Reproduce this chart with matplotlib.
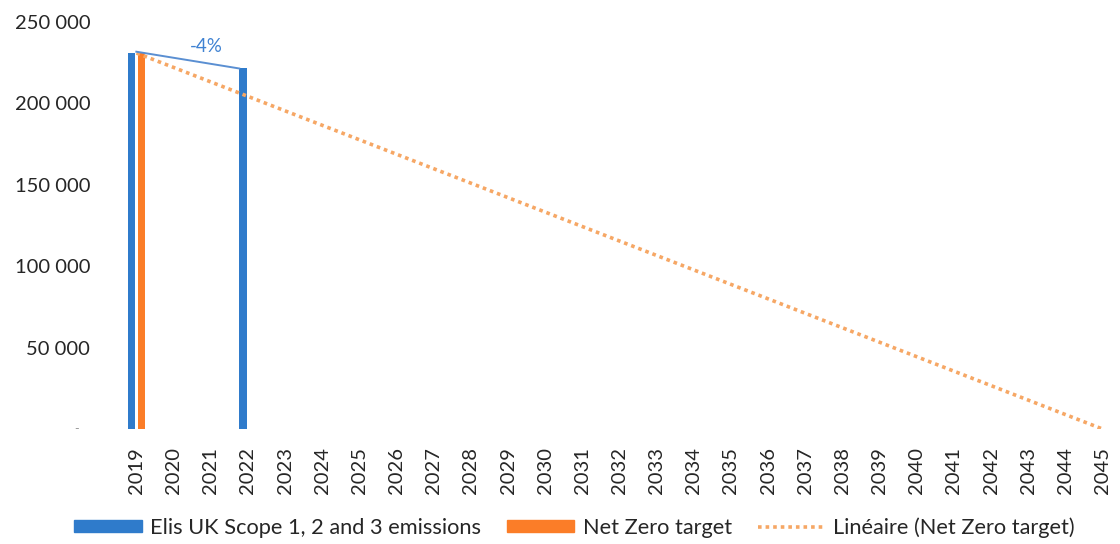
import numpy as np
import matplotlib.pyplot as plt
from matplotlib.patches import Patch
from matplotlib.lines import Line2D

plt.rcParams['font.family'] = ['Lato', 'DejaVu Sans']

# Emissions (tCO2e) and Net Zero path
years = list(range(2019, 2046))
emission_years = [2019, 2022]
emission_values = [231000, 221500]
target_years = [2019, 2045]
target_values = [231000, 0]
change_label = '-4%'

legend_labels = ['Elis UK Scope 1, 2 and 3 emissions', 'Net Zero target',
                 'Linéaire (Net Zero target)']
y_ticks = [0, 50000, 100000, 150000, 200000, 250000]

blue = '#2f7bcb'
orange = '#fb7d28'
trend_orange = '#f6a765'
text_col = '#262626'

fig = plt.figure(figsize=(11.2, 5.44), dpi=100)
ax = fig.add_axes([0.1053, 0.2114, 0.894, 0.748])

x_em = [years.index(y) for y in emission_years]
x_tg = [years.index(y) for y in target_years]
bw = 0.2
off = 0.135

ax.bar(np.array(x_em) - off, emission_values, width=bw, color=blue, zorder=2)
ax.bar(np.array(x_tg) + off, target_values, width=bw, color=orange, zorder=2)

# linear trendline fitted on the target series
coef = np.polyfit(x_tg, target_values, 1)
xt = np.array([0, len(years) - 1])
ax.plot(xt, np.polyval(coef, xt), color=trend_orange, lw=2.6,
        linestyle=(0, (1, 1.1)), zorder=3)

# connector between the two emission bars
x0 = x_em[0] - off + bw / 2 + 0.03
x1 = x_em[1] - off - bw / 2
ax.plot([x0, x1], [emission_values[0] + 800, emission_values[1]],
        color='#5a8fd2', lw=1.4, zorder=4)
ax.text((x0 + x1) / 2 + 0.5, emission_values[0] + 4200, change_label,
        color='#3f82d2', fontsize=13.5, ha='center', va='center')

ax.set_xlim(-0.5, 26.45)
ax.set_ylim(0, 250000)
ax.set_xticks(range(len(years)))
ax.set_xticklabels([str(y) for y in years], rotation=90, fontsize=14.5,
                   color=text_col)
ax.set_yticks(y_ticks)
ax.set_yticklabels([''] + [f'{v:,}'.replace(',', ' ') for v in y_ticks[1:]],
                   fontsize=14.5, color=text_col)
ax.text(-0.5 - 41 / 37.15, 0, '-', fontsize=9, color='#9a9a9a',
        ha='center', va='center')
ax.tick_params(axis='both', length=0)
ax.tick_params(axis='x', pad=13)
ax.tick_params(axis='y', pad=20)
for s in ax.spines.values():
    s.set_visible(False)

handles = [Patch(color=blue), Patch(color=orange),
           Line2D([0], [0], color=trend_orange, lw=2.6, linestyle=(0, (1, 1.1)))]
fig.legend(handles, legend_labels, loc='center', bbox_to_anchor=(0.513, 0.03),
           ncol=3, frameon=False, fontsize=15.7, handlelength=3.1,
           handleheight=0.45, handletextpad=0.37, columnspacing=1.2,
           labelcolor=text_col)

fig.savefig('out.png', dpi=100)
